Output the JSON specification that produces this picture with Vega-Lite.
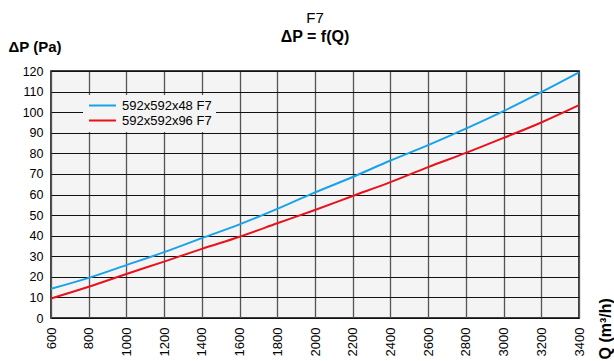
{
  "$schema": "https://vega.github.io/schema/vega-lite/v6.json",
  "width": 528,
  "height": 247,
  "autosize": {"type": "none"},
  "padding": {"left": 51, "top": 71, "right": 35, "bottom": 43},
  "background": "white",
  "title": {
    "text": "F7",
    "subtitle": "ΔP = f(Q)",
    "anchor": "middle",
    "frame": "group",
    "font": "Liberation Sans",
    "fontSize": 15,
    "fontWeight": "normal",
    "color": "black",
    "subtitleFont": "Liberation Sans",
    "subtitleFontSize": 16,
    "subtitleFontWeight": "bold",
    "subtitleColor": "black",
    "subtitlePadding": 3,
    "offset": -6
  },
  "config": {
    "font": "Liberation Sans",
    "view": {"fill": "#f4f4f4", "stroke": "black", "strokeWidth": 1.5}
  },
  "data": {
    "values": [
      {"Q": 600, "dP": 14.2, "s": "592x592x48 F7"},
      {"Q": 800, "dP": 19.5, "s": "592x592x48 F7"},
      {"Q": 1000, "dP": 25.7, "s": "592x592x48 F7"},
      {"Q": 1200, "dP": 32.0, "s": "592x592x48 F7"},
      {"Q": 1400, "dP": 38.8, "s": "592x592x48 F7"},
      {"Q": 1600, "dP": 45.5, "s": "592x592x48 F7"},
      {"Q": 1800, "dP": 53.0, "s": "592x592x48 F7"},
      {"Q": 2000, "dP": 61.0, "s": "592x592x48 F7"},
      {"Q": 2200, "dP": 68.5, "s": "592x592x48 F7"},
      {"Q": 2400, "dP": 76.5, "s": "592x592x48 F7"},
      {"Q": 2600, "dP": 84.0, "s": "592x592x48 F7"},
      {"Q": 2800, "dP": 92.0, "s": "592x592x48 F7"},
      {"Q": 3000, "dP": 100.5, "s": "592x592x48 F7"},
      {"Q": 3200, "dP": 109.7, "s": "592x592x48 F7"},
      {"Q": 3400, "dP": 119.3, "s": "592x592x48 F7"},
      {"Q": 600, "dP": 9.5, "s": "592x592x96 F7"},
      {"Q": 800, "dP": 15.2, "s": "592x592x96 F7"},
      {"Q": 1000, "dP": 21.4, "s": "592x592x96 F7"},
      {"Q": 1200, "dP": 27.4, "s": "592x592x96 F7"},
      {"Q": 1400, "dP": 33.6, "s": "592x592x96 F7"},
      {"Q": 1600, "dP": 39.5, "s": "592x592x96 F7"},
      {"Q": 1800, "dP": 46.0, "s": "592x592x96 F7"},
      {"Q": 2000, "dP": 52.5, "s": "592x592x96 F7"},
      {"Q": 2200, "dP": 59.3, "s": "592x592x96 F7"},
      {"Q": 2400, "dP": 66.0, "s": "592x592x96 F7"},
      {"Q": 2600, "dP": 73.3, "s": "592x592x96 F7"},
      {"Q": 2800, "dP": 80.2, "s": "592x592x96 F7"},
      {"Q": 3000, "dP": 87.5, "s": "592x592x96 F7"},
      {"Q": 3200, "dP": 95.0, "s": "592x592x96 F7"},
      {"Q": 3400, "dP": 103.4, "s": "592x592x96 F7"}
    ]
  },
  "mark": {"type": "line", "strokeWidth": 2, "interpolate": "monotone"},
  "encoding": {
    "x": {
      "field": "Q",
      "type": "quantitative",
      "scale": {"domain": [600, 3400], "nice": false, "zero": false},
      "axis": {
        "values": [600, 800, 1000, 1200, 1400, 1600, 1800, 2000, 2200, 2400, 2600, 2800, 3000, 3200, 3400],
        "format": "d",
        "labelAngle": 270,
        "labelAlign": "right",
        "labelBaseline": "middle",
        "labelFontSize": 13,
        "labelColor": "black",
        "labelPadding": 9,
        "labelFlush": false,
        "labelOverlap": false,
        "ticks": false,
        "domain": false,
        "grid": true,
        "gridColor": "#555555",
        "gridWidth": 1.3,
        "gridOpacity": 1,
        "title": "Q (m³/h)",
        "titleFontSize": 16,
        "titleFontWeight": "bold",
        "titleColor": "black",
        "titleAngle": 270,
        "titleAlign": "left",
        "titleBaseline": "middle",
        "titleX": 554,
        "titleY": 41
      }
    },
    "y": {
      "field": "dP",
      "type": "quantitative",
      "scale": {"domain": [0, 120], "nice": false},
      "axis": {
        "values": [0, 10, 20, 30, 40, 50, 60, 70, 80, 90, 100, 110, 120],
        "labelFontSize": 12.5,
        "labelColor": "black",
        "labelPadding": 8,
        "labelFlush": false,
        "labelOverlap": false,
        "ticks": false,
        "domain": false,
        "grid": true,
        "gridColor": "#111111",
        "gridWidth": 1,
        "gridOpacity": 1,
        "title": "ΔP (Pa)",
        "titleFontSize": 15,
        "titleFontWeight": "bold",
        "titleColor": "black",
        "titleAngle": 0,
        "titleAlign": "left",
        "titleBaseline": "middle",
        "titleX": -43,
        "titleY": -25
      }
    },
    "color": {
      "field": "s",
      "type": "nominal",
      "scale": {"domain": ["592x592x48 F7", "592x592x96 F7"], "range": ["#19a3e6", "#e8121b"]},
      "legend": {
        "title": null,
        "orient": "none",
        "legendX": 32,
        "legendY": 24,
        "fillColor": "#f4f4f4",
        "padding": 4,
        "symbolType": "M-1,0H5",
        "symbolSize": 81,
        "symbolStrokeWidth": 2,
        "labelFontSize": 13,
        "labelColor": "black",
        "labelOffset": 22,
        "rowPadding": 1
      }
    }
  }
}
